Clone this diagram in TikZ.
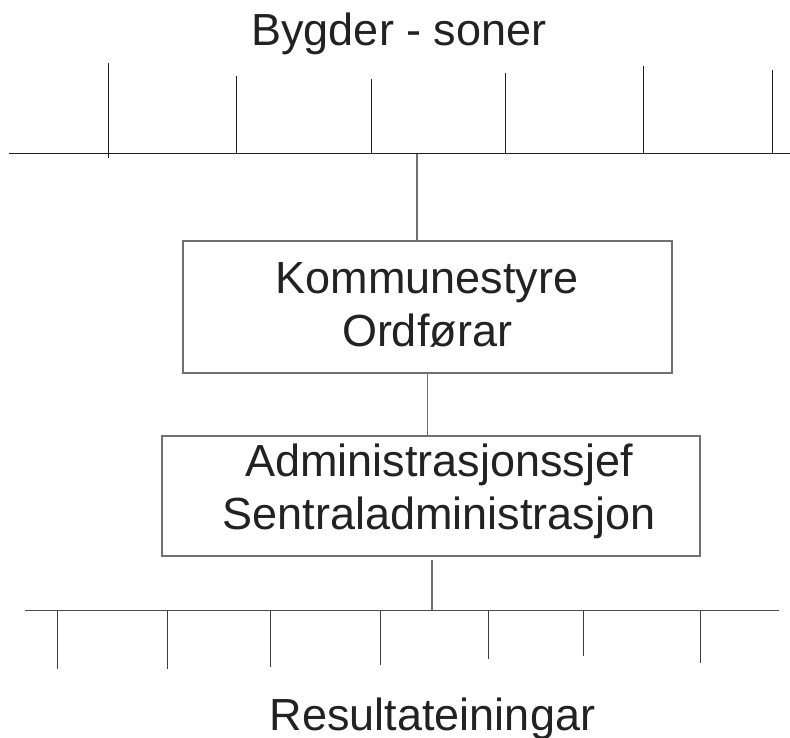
\documentclass[tikz,border=0pt]{standalone}
\usepackage{fontspec}
\setmainfont{Liberation Sans}
\usetikzlibrary{calc}

\definecolor{linedark}{HTML}{222222}
\definecolor{boxgray}{HTML}{707070}

\tikzset{
  bigtext/.style={font=\fontsize{45}{53}\selectfont, text=linedark, inner sep=0pt, align=center},
  orgbox/.style={draw=boxgray, line width=1.2pt, inner sep=0pt},
  tick/.style={draw=linedark, line width=1pt},
  link/.style={draw=boxgray, line width=1.2pt}
}

\begin{document}
\begin{tikzpicture} [x=1pt, y=-1pt]
\useasboundingbox (0,0) rectangle (790,738);

\node[bigtext, anchor=base] (bygder) at (399,46) {Bygder - soner};

% top bus
\coordinate (busL) at (9,154);
\coordinate (busR) at (790,154);
\draw[tick] (busL) -- (busR);
\draw[tick] (108,63) -- (108,158);
\foreach \x/\y in {236.5/76, 371.7/79, 505/73, 643/66, 772/70} \draw[tick] (\x,\y) -- (\x,154);

% boxes
\node[orgbox, minimum width=489pt, minimum height=132pt] (kom) at (427.5,307) {};
\node[bigtext] (komtxt) at (427,305) {Kommunestyre\\Ordførar};

\node[orgbox, minimum width=538pt, minimum height=120pt] (adm) at (431,496) {};
\node[bigtext] (admtxt) at (439,491) {Administrasjonssjef\\Sentraladministrasjon};

% connectors
\coordinate (topjoin) at (417,154);
\draw[link] (topjoin) -- (topjoin |- kom.north);
\draw[link] (kom.south) -- (kom.south |- adm.north);

% bottom bus
\coordinate (botL) at (25,610);
\coordinate (botR) at (779,610);
\coordinate (botjoin) at (432,610);
\draw[link] ($(adm.south)+(1,3)$) -- (botjoin);
\draw[tick, draw=black!70] (botL) -- (botR);
\foreach \x/\y in {57.5/669, 167/669, 270/667, 380/665, 488/659, 583/656, 700/663} \draw[tick, draw=black!75] (\x,610) -- (\x,\y);

\node[bigtext, anchor=base] (result) at (432.5,730) {Resultateiningar};

\end{tikzpicture}
\end{document}
